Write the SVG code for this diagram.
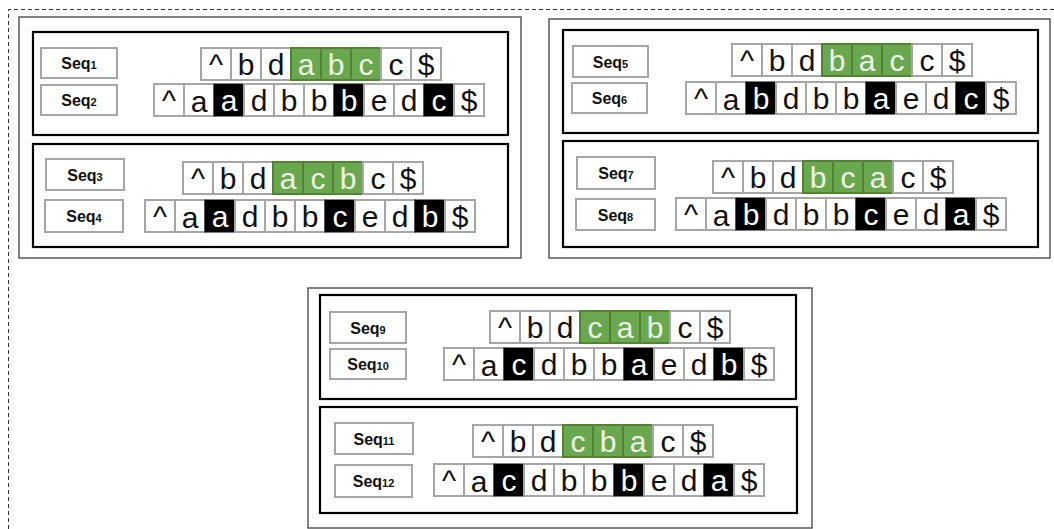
<svg xmlns="http://www.w3.org/2000/svg" width="1054" height="529" viewBox="0 0 1054 529">
<style>
.outer{fill:#fff;stroke:#595959;stroke-width:1.5}
.inner{fill:none;stroke:#000;stroke-width:2.2}
.lab{fill:#fff;stroke:#a6a6a6;stroke-width:2}
.lt{font-family:"Liberation Sans",Arial,sans-serif;font-weight:bold;font-size:16px;text-anchor:middle;fill:#111}
.lt tspan{font-size:11px}
.c{fill:#fff;stroke:#a6a6a6;stroke-width:2}
.g{fill:#6aa84f;stroke:#538135;stroke-width:2}
.k{fill:#000;stroke:#000;stroke-width:1}
.t{font-family:"Liberation Sans",Arial,sans-serif;font-size:30px;text-anchor:middle;fill:#111}
.tg{fill:#eef5e8}
.tk{fill:#fff}
.dash{fill:none;stroke:#333;stroke-width:1;stroke-dasharray:4 3}
</style>
<rect width="1054" height="529" fill="#fff"/>
<path class="dash" d="M8.5,529 V9.5 H1054"/>
<g id="connectors"/>

<g id="panel-top-left">
<rect class="outer" x="19" y="17" width="502" height="241"/>
<g id="pair-1-2">
<rect class="inner" x="33" y="32" width="475" height="103"/>
<g id="seq1-label"><rect class="lab" x="41" y="48" width="76" height="30"/><text class="lt" x="79" y="69">Seq<tspan>1</tspan></text></g>
<g id="seq2-label"><rect class="lab" x="41" y="85" width="76" height="30"/><text class="lt" x="79" y="106">Seq<tspan>2</tspan></text></g>
<g id="seq1" transform="translate(201,48)">
<rect class="c" x="0" width="30" height="32"/><text class="t" x="15" y="27">^</text>
<rect class="c" x="30" width="30" height="32"/><text class="t" x="45" y="27">b</text>
<rect class="c" x="60" width="30" height="32"/><text class="t" x="75" y="27">d</text>
<rect class="g" x="90" width="30" height="32"/><text class="t tg" x="105" y="27">a</text>
<rect class="g" x="120" width="30" height="32"/><text class="t tg" x="135" y="27">b</text>
<rect class="g" x="150" width="30" height="32"/><text class="t tg" x="165" y="27">c</text>
<rect class="c" x="180" width="30" height="32"/><text class="t" x="195" y="27">c</text>
<rect class="c" x="210" width="30" height="32"/><text class="t" x="225" y="27">$</text>
</g>
<g id="seq2" transform="translate(154,84)">
<rect class="c" x="0" width="30" height="32"/><text class="t" x="15" y="27">^</text>
<rect class="c" x="30" width="30" height="32"/><text class="t" x="45" y="28">a</text>
<rect class="k" x="60" width="30" height="32"/><text class="t tk" x="75" y="27">a</text>
<rect class="c" x="90" width="30" height="32"/><text class="t" x="105" y="27">d</text>
<rect class="c" x="120" width="30" height="32"/><text class="t" x="135" y="27">b</text>
<rect class="c" x="150" width="30" height="32"/><text class="t" x="165" y="27">b</text>
<rect class="k" x="180" width="30" height="32"/><text class="t tk" x="195" y="27">b</text>
<rect class="c" x="210" width="30" height="32"/><text class="t" x="225" y="27">e</text>
<rect class="c" x="240" width="30" height="32"/><text class="t" x="255" y="27">d</text>
<rect class="k" x="270" width="30" height="32"/><text class="t tk" x="285" y="27">c</text>
<rect class="c" x="300" width="30" height="32"/><text class="t" x="315" y="27">$</text>
</g>
</g>
<g id="pair-3-4">
<rect class="inner" x="33" y="144" width="475" height="103"/>
<g id="seq3-label"><rect class="lab" x="46" y="159" width="78" height="31"/><text class="lt" x="85" y="180.5">Seq<tspan>3</tspan></text></g>
<g id="seq4-label"><rect class="lab" x="45" y="200" width="78" height="32"/><text class="lt" x="84" y="222">Seq<tspan>4</tspan></text></g>
<g id="seq3" transform="translate(183,162)">
<rect class="c" x="0" width="30" height="32"/><text class="t" x="15" y="27">^</text>
<rect class="c" x="30" width="30" height="32"/><text class="t" x="45" y="27">b</text>
<rect class="c" x="60" width="30" height="32"/><text class="t" x="75" y="27">d</text>
<rect class="g" x="90" width="30" height="32"/><text class="t tg" x="105" y="27">a</text>
<rect class="g" x="120" width="30" height="32"/><text class="t tg" x="135" y="27">c</text>
<rect class="g" x="150" width="30" height="32"/><text class="t tg" x="165" y="27">b</text>
<rect class="c" x="180" width="30" height="32"/><text class="t" x="195" y="27">c</text>
<rect class="c" x="210" width="30" height="32"/><text class="t" x="225" y="27">$</text>
</g>
<g id="seq4" transform="translate(145,200)">
<rect class="c" x="0" width="30" height="32"/><text class="t" x="15" y="27">^</text>
<rect class="c" x="30" width="30" height="32"/><text class="t" x="45" y="28">a</text>
<rect class="k" x="60" width="30" height="32"/><text class="t tk" x="75" y="27">a</text>
<rect class="c" x="90" width="30" height="32"/><text class="t" x="105" y="27">d</text>
<rect class="c" x="120" width="30" height="32"/><text class="t" x="135" y="27">b</text>
<rect class="c" x="150" width="30" height="32"/><text class="t" x="165" y="27">b</text>
<rect class="k" x="180" width="30" height="32"/><text class="t tk" x="195" y="27">c</text>
<rect class="c" x="210" width="30" height="32"/><text class="t" x="225" y="27">e</text>
<rect class="c" x="240" width="30" height="32"/><text class="t" x="255" y="27">d</text>
<rect class="k" x="270" width="30" height="32"/><text class="t tk" x="285" y="27">b</text>
<rect class="c" x="300" width="30" height="32"/><text class="t" x="315" y="27">$</text>
</g>
</g>
</g>

<g id="panel-top-right">
<rect class="outer" x="549" y="19" width="501" height="239"/>
<g id="pair-5-6">
<rect class="inner" x="563" y="30" width="475" height="103"/>
<g id="seq5-label"><rect class="lab" x="573" y="46" width="75" height="31"/><text class="lt" x="610.5" y="67.5">Seq<tspan>5</tspan></text></g>
<g id="seq6-label"><rect class="lab" x="572" y="83" width="75" height="30"/><text class="lt" x="609.5" y="104">Seq<tspan>6</tspan></text></g>
<g id="seq5" transform="translate(732,44)">
<rect class="c" x="0" width="30" height="32"/><text class="t" x="15" y="27">^</text>
<rect class="c" x="30" width="30" height="32"/><text class="t" x="45" y="27">b</text>
<rect class="c" x="60" width="30" height="32"/><text class="t" x="75" y="27">d</text>
<rect class="g" x="90" width="30" height="32"/><text class="t tg" x="105" y="27">b</text>
<rect class="g" x="120" width="30" height="32"/><text class="t tg" x="135" y="27">a</text>
<rect class="g" x="150" width="30" height="32"/><text class="t tg" x="165" y="27">c</text>
<rect class="c" x="180" width="30" height="32"/><text class="t" x="195" y="27">c</text>
<rect class="c" x="210" width="30" height="32"/><text class="t" x="225" y="27">$</text>
</g>
<g id="seq6" transform="translate(686,82)">
<rect class="c" x="0" width="30" height="32"/><text class="t" x="15" y="27">^</text>
<rect class="c" x="30" width="30" height="32"/><text class="t" x="45" y="28">a</text>
<rect class="k" x="60" width="30" height="32"/><text class="t tk" x="75" y="27">b</text>
<rect class="c" x="90" width="30" height="32"/><text class="t" x="105" y="27">d</text>
<rect class="c" x="120" width="30" height="32"/><text class="t" x="135" y="27">b</text>
<rect class="c" x="150" width="30" height="32"/><text class="t" x="165" y="27">b</text>
<rect class="k" x="180" width="30" height="32"/><text class="t tk" x="195" y="27">a</text>
<rect class="c" x="210" width="30" height="32"/><text class="t" x="225" y="27">e</text>
<rect class="c" x="240" width="30" height="32"/><text class="t" x="255" y="27">d</text>
<rect class="k" x="270" width="30" height="32"/><text class="t tk" x="285" y="27">c</text>
<rect class="c" x="300" width="30" height="32"/><text class="t" x="315" y="27">$</text>
</g>
</g>
<g id="pair-7-8">
<rect class="inner" x="563" y="141" width="475" height="106"/>
<g id="seq7-label"><rect class="lab" x="577" y="157" width="78" height="32"/><text class="lt" x="616" y="179">Seq<tspan>7</tspan></text></g>
<g id="seq8-label"><rect class="lab" x="576" y="199" width="79" height="31"/><text class="lt" x="615.5" y="220.5">Seq<tspan>8</tspan></text></g>
<g id="seq7" transform="translate(713,161)">
<rect class="c" x="0" width="30" height="32"/><text class="t" x="15" y="27">^</text>
<rect class="c" x="30" width="30" height="32"/><text class="t" x="45" y="27">b</text>
<rect class="c" x="60" width="30" height="32"/><text class="t" x="75" y="27">d</text>
<rect class="g" x="90" width="30" height="32"/><text class="t tg" x="105" y="27">b</text>
<rect class="g" x="120" width="30" height="32"/><text class="t tg" x="135" y="27">c</text>
<rect class="g" x="150" width="30" height="32"/><text class="t tg" x="165" y="27">a</text>
<rect class="c" x="180" width="30" height="32"/><text class="t" x="195" y="27">c</text>
<rect class="c" x="210" width="30" height="32"/><text class="t" x="225" y="27">$</text>
</g>
<g id="seq8" transform="translate(676,198)">
<rect class="c" x="0" width="30" height="32"/><text class="t" x="15" y="27">^</text>
<rect class="c" x="30" width="30" height="32"/><text class="t" x="45" y="28">a</text>
<rect class="k" x="60" width="30" height="32"/><text class="t tk" x="75" y="27">b</text>
<rect class="c" x="90" width="30" height="32"/><text class="t" x="105" y="27">d</text>
<rect class="c" x="120" width="30" height="32"/><text class="t" x="135" y="27">b</text>
<rect class="c" x="150" width="30" height="32"/><text class="t" x="165" y="27">b</text>
<rect class="k" x="180" width="30" height="32"/><text class="t tk" x="195" y="27">c</text>
<rect class="c" x="210" width="30" height="32"/><text class="t" x="225" y="27">e</text>
<rect class="c" x="240" width="30" height="32"/><text class="t" x="255" y="27">d</text>
<rect class="k" x="270" width="30" height="32"/><text class="t tk" x="285" y="27">a</text>
<rect class="c" x="300" width="30" height="32"/><text class="t" x="315" y="27">$</text>
</g>
</g>
</g>

<g id="panel-bottom">
<rect class="outer" x="308" y="288" width="504" height="240"/>
<g id="pair-9-10">
<rect class="inner" x="320" y="295" width="476" height="104"/>
<g id="seq9-label"><rect class="lab" x="330" y="312" width="76" height="31"/><text class="lt" x="368" y="333.5">Seq<tspan>9</tspan></text></g>
<g id="seq10-label"><rect class="lab" x="330" y="349" width="76" height="30"/><text class="lt" x="368" y="370">Seq<tspan>10</tspan></text></g>
<g id="seq9" transform="translate(490,311)">
<rect class="c" x="0" width="30" height="32"/><text class="t" x="15" y="27">^</text>
<rect class="c" x="30" width="30" height="32"/><text class="t" x="45" y="27">b</text>
<rect class="c" x="60" width="30" height="32"/><text class="t" x="75" y="27">d</text>
<rect class="g" x="90" width="30" height="32"/><text class="t tg" x="105" y="27">c</text>
<rect class="g" x="120" width="30" height="32"/><text class="t tg" x="135" y="27">a</text>
<rect class="g" x="150" width="30" height="32"/><text class="t tg" x="165" y="27">b</text>
<rect class="c" x="180" width="30" height="32"/><text class="t" x="195" y="27">c</text>
<rect class="c" x="210" width="30" height="32"/><text class="t" x="225" y="27">$</text>
</g>
<g id="seq10" transform="translate(444,348)">
<rect class="c" x="0" width="30" height="32"/><text class="t" x="15" y="27">^</text>
<rect class="c" x="30" width="30" height="32"/><text class="t" x="45" y="28">a</text>
<rect class="k" x="60" width="30" height="32"/><text class="t tk" x="75" y="27">c</text>
<rect class="c" x="90" width="30" height="32"/><text class="t" x="105" y="27">d</text>
<rect class="c" x="120" width="30" height="32"/><text class="t" x="135" y="27">b</text>
<rect class="c" x="150" width="30" height="32"/><text class="t" x="165" y="27">b</text>
<rect class="k" x="180" width="30" height="32"/><text class="t tk" x="195" y="27">a</text>
<rect class="c" x="210" width="30" height="32"/><text class="t" x="225" y="27">e</text>
<rect class="c" x="240" width="30" height="32"/><text class="t" x="255" y="27">d</text>
<rect class="k" x="270" width="30" height="32"/><text class="t tk" x="285" y="27">b</text>
<rect class="c" x="300" width="30" height="32"/><text class="t" x="315" y="27">$</text>
</g>
</g>
<g id="pair-11-12">
<rect class="inner" x="320" y="407" width="477" height="106"/>
<g id="seq11-label"><rect class="lab" x="335" y="423" width="78" height="31"/><text class="lt" x="374" y="444.5">Seq<tspan>11</tspan></text></g>
<g id="seq12-label"><rect class="lab" x="335" y="465" width="77" height="32"/><text class="lt" x="373.5" y="487">Seq<tspan>12</tspan></text></g>
<g id="seq11" transform="translate(473,425)">
<rect class="c" x="0" width="30" height="32"/><text class="t" x="15" y="27">^</text>
<rect class="c" x="30" width="30" height="32"/><text class="t" x="45" y="27">b</text>
<rect class="c" x="60" width="30" height="32"/><text class="t" x="75" y="27">d</text>
<rect class="g" x="90" width="30" height="32"/><text class="t tg" x="105" y="27">c</text>
<rect class="g" x="120" width="30" height="32"/><text class="t tg" x="135" y="27">b</text>
<rect class="g" x="150" width="30" height="32"/><text class="t tg" x="165" y="27">a</text>
<rect class="c" x="180" width="30" height="32"/><text class="t" x="195" y="27">c</text>
<rect class="c" x="210" width="30" height="32"/><text class="t" x="225" y="27">$</text>
</g>
<g id="seq12" transform="translate(434,464)">
<rect class="c" x="0" width="30" height="32"/><text class="t" x="15" y="27">^</text>
<rect class="c" x="30" width="30" height="32"/><text class="t" x="45" y="28">a</text>
<rect class="k" x="60" width="30" height="32"/><text class="t tk" x="75" y="27">c</text>
<rect class="c" x="90" width="30" height="32"/><text class="t" x="105" y="27">d</text>
<rect class="c" x="120" width="30" height="32"/><text class="t" x="135" y="27">b</text>
<rect class="c" x="150" width="30" height="32"/><text class="t" x="165" y="27">b</text>
<rect class="k" x="180" width="30" height="32"/><text class="t tk" x="195" y="27">b</text>
<rect class="c" x="210" width="30" height="32"/><text class="t" x="225" y="27">e</text>
<rect class="c" x="240" width="30" height="32"/><text class="t" x="255" y="27">d</text>
<rect class="k" x="270" width="30" height="32"/><text class="t tk" x="285" y="27">a</text>
<rect class="c" x="300" width="30" height="32"/><text class="t" x="315" y="27">$</text>
</g>
</g>
</g>
</svg>
